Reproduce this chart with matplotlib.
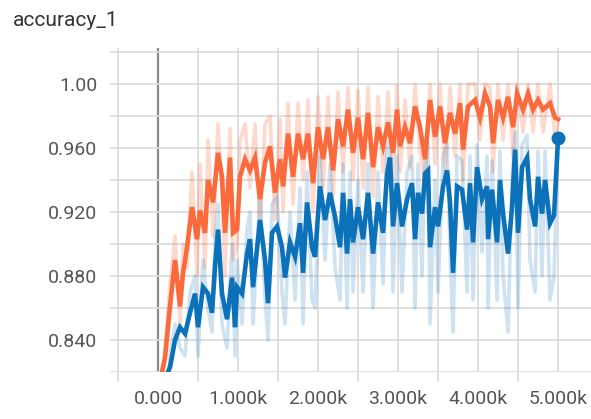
import matplotlib
matplotlib.use("Agg")
import matplotlib.pyplot as plt
from matplotlib.ticker import FixedLocator

plt.rcParams['font.family'] = ['Roboto', 'DejaVu Sans']

title = "accuracy_1"

steps_o = [50, 88, 150, 213, 275, 313, 363, 425, 488, 525, 588, 625, 688, 750, 800, 838, 900, 938, 988, 1025,
           1088, 1150, 1213, 1275, 1338, 1400, 1463, 1525, 1563, 1625, 1688, 1750, 1813, 1875, 1938, 2000, 2063,
           2125, 2188, 2250, 2313, 2375, 2438, 2500, 2563, 2625, 2688, 2750, 2813, 2875, 2938, 2988, 3025, 3088,
           3150, 3213, 3275, 3338, 3400, 3463, 3525, 3588, 3650, 3713, 3775, 3813, 3875, 3963, 4025, 4088, 4150,
           4188, 4250, 4313, 4375, 4438, 4488, 4563, 4625, 4688, 4750, 4813, 4900, 4963, 5000]
smooth_o = [0.820, 0.829, 0.861, 0.890, 0.861, 0.882, 0.898, 0.923, 0.903, 0.921, 0.907, 0.940, 0.926, 0.957,
            0.942, 0.907, 0.954, 0.907, 0.909, 0.942, 0.953, 0.946, 0.954, 0.928, 0.951, 0.961, 0.932, 0.953,
            0.936, 0.969, 0.942, 0.969, 0.953, 0.969, 0.938, 0.973, 0.953, 0.973, 0.946, 0.978, 0.961, 0.984,
            0.957, 0.979, 0.953, 0.982, 0.948, 0.973, 0.961, 0.976, 0.957, 0.984, 0.961, 0.973, 0.963, 0.986,
            0.973, 0.953, 0.990, 0.967, 0.986, 0.963, 0.982, 0.969, 0.988, 0.959, 0.986, 0.990, 0.979, 0.994,
            0.986, 0.963, 0.990, 0.979, 0.992, 0.973, 0.994, 0.984, 0.994, 0.984, 0.990, 0.984, 0.988, 0.979,
            0.978]
raw_o = [0.815, 0.835, 0.875, 0.905, 0.850, 0.900, 0.885, 0.945, 0.880, 0.950, 0.885, 0.965, 0.905, 0.975,
         0.930, 0.880, 0.972, 0.890, 0.900, 0.965, 0.975, 0.935, 0.975, 0.910, 0.975, 0.980, 0.915, 0.978,
         0.920, 0.988, 0.925, 0.988, 0.940, 0.990, 0.920, 0.992, 0.935, 0.992, 0.930, 0.995, 0.945, 0.998,
         0.940, 0.996, 0.935, 0.998, 0.930, 0.992, 0.945, 0.995, 0.940, 0.999, 0.945, 0.990, 0.948, 1.000,
         0.958, 0.935, 1.000, 0.950, 1.000, 0.945, 0.998, 0.955, 1.000, 0.940, 1.000, 1.000, 0.965, 1.000,
         0.998, 0.945, 1.000, 0.965, 1.000, 0.955, 1.000, 0.970, 1.000, 0.970, 1.000, 0.970, 1.000, 0.965,
         0.975]

steps_b = [125, 150, 213, 275, 338, 400, 463, 500, 563, 625, 675, 713, 750, 800, 863, 925, 963, 988, 1050, 1113,
           1150, 1188, 1275, 1338, 1375, 1425, 1488, 1550, 1588, 1650, 1713, 1775, 1813, 1863, 1925, 1963, 2025,
           2088, 2150, 2213, 2275, 2313, 2363, 2400, 2438, 2500, 2563, 2625, 2688, 2750, 2813, 2863, 2900, 2938,
           2988, 3050, 3113, 3175, 3213, 3250, 3300, 3338, 3375, 3400, 3463, 3500, 3563, 3613, 3650, 3688, 3738,
           3800, 3863, 3900, 3938, 3988, 4050, 4113, 4125, 4175, 4238, 4275, 4313, 4375, 4425, 4463, 4500, 4550,
           4613, 4650, 4713, 4750, 4800, 4838, 4900, 4950, 5000]
smooth_b = [0.820, 0.823, 0.840, 0.848, 0.844, 0.857, 0.869, 0.848, 0.873, 0.869, 0.857, 0.886, 0.909, 0.869,
            0.853, 0.879, 0.848, 0.873, 0.869, 0.894, 0.903, 0.873, 0.915, 0.890, 0.863, 0.907, 0.911, 0.898,
            0.879, 0.901, 0.892, 0.913, 0.882, 0.926, 0.898, 0.892, 0.936, 0.915, 0.932, 0.917, 0.898, 0.932,
            0.894, 0.928, 0.901, 0.923, 0.903, 0.932, 0.894, 0.926, 0.907, 0.944, 0.954, 0.911, 0.938, 0.911,
            0.928, 0.938, 0.903, 0.932, 0.919, 0.944, 0.946, 0.898, 0.923, 0.911, 0.936, 0.946, 0.926, 0.882,
            0.936, 0.934, 0.909, 0.938, 0.901, 0.948, 0.928, 0.936, 0.903, 0.934, 0.901, 0.940, 0.919, 0.894,
            0.923, 0.959, 0.907, 0.948, 0.954, 0.928, 0.911, 0.942, 0.919, 0.940, 0.913, 0.918, 0.966]
raw_b = [0.815, 0.830, 0.850, 0.835, 0.830, 0.870, 0.880, 0.830, 0.890, 0.860,
         0.845, 0.905, 0.925, 0.850, 0.835, 0.900, 0.830, 0.890, 0.850, 0.910,
         0.920, 0.850, 0.935, 0.865, 0.840, 0.925, 0.930, 0.870, 0.850, 0.920,
         0.865, 0.935, 0.850, 0.945, 0.865, 0.860, 0.955, 0.890, 0.950, 0.885,
         0.865, 0.950, 0.860, 0.945, 0.870, 0.940, 0.870, 0.950, 0.860, 0.945,
         0.875, 0.960, 0.965, 0.870, 0.955, 0.870, 0.945, 0.955, 0.860, 0.950,
         0.880, 0.960, 0.962, 0.850, 0.940, 0.870, 0.955, 0.962, 0.895, 0.845,
         0.955, 0.952, 0.870, 0.955, 0.865, 0.962, 0.895, 0.955, 0.860, 0.952,
         0.865, 0.958, 0.880, 0.845, 0.940, 0.970, 0.860, 0.962, 0.968, 0.890,
         0.870, 0.958, 0.880, 0.958, 0.865, 0.880, 0.966]

x_ticks = [0, 1000, 2000, 3000, 4000, 5000]
x_tick_labels = ["0.000", "1.000k", "2.000k", "3.000k", "4.000k", "5.000k"]
y_ticks = [0.84, 0.88, 0.92, 0.96, 1.00]
y_tick_labels = ["0.840", "0.880", "0.920", "0.960", "1.00"]

ORANGE = "#fa6a3c"
BLUE = "#0b72b9"

W, H = 591, 419
fig = plt.figure(figsize=(W / 100, H / 100), dpi=100)
ax = fig.add_axes([110 / W, 1 - 372 / H, (W - 110) / W, (372 - 48) / H])

ax.set_xlim(-600, 5412)
ax.set_ylim(0.82, 1.0225)

for s in ax.spines.values():
    s.set_visible(False)

# grid
for gx in range(-500, 5001, 500):
    if gx == 0:
        ax.axvline(gx, color="#8a8a8a", lw=1.6, zorder=0.5)
    else:
        ax.axvline(gx, color="#dcdcdc", lw=1.3, zorder=0.5)
for i in range(11):
    ax.axhline(0.82 + 0.02 * i, color="#dcdcdc", lw=1.3, zorder=0.5)

ax.plot(steps_o, raw_o, color=ORANGE, alpha=0.25, lw=2.6, zorder=1)
ax.plot(steps_b, raw_b, color=BLUE, alpha=0.2, lw=2.6, zorder=1.1)
ax.plot(steps_o, smooth_o, color=ORANGE, lw=3.3, zorder=2, solid_joinstyle="miter")
ax.plot(steps_b, smooth_b, color=BLUE, lw=3.3, zorder=2.1, solid_joinstyle="miter")
ax.plot([steps_b[-1]], [smooth_b[-1]], "o", color=BLUE, ms=9, zorder=3)

ax.xaxis.set_major_locator(FixedLocator(x_ticks))
ax.set_xticklabels(x_tick_labels)
ax.xaxis.set_minor_locator(FixedLocator([-500, 500, 1500, 2500, 3500, 4500]))
ax.yaxis.set_major_locator(FixedLocator(y_ticks))
ax.set_yticklabels(y_tick_labels)
ax.tick_params(axis="x", which="major", length=0, pad=13, labelsize=14, labelcolor="#555555")
ax.tick_params(axis="x", which="minor", length=7, width=1.3, color="#dcdcdc")
ax.tick_params(axis="y", which="major", length=0, pad=9, labelsize=14, labelcolor="#555555")

fig.text(13 / W, 1 - 21 / H, title, fontsize=15, color="#333333", ha="left", va="center")

fig.savefig("out.png", dpi=100)
